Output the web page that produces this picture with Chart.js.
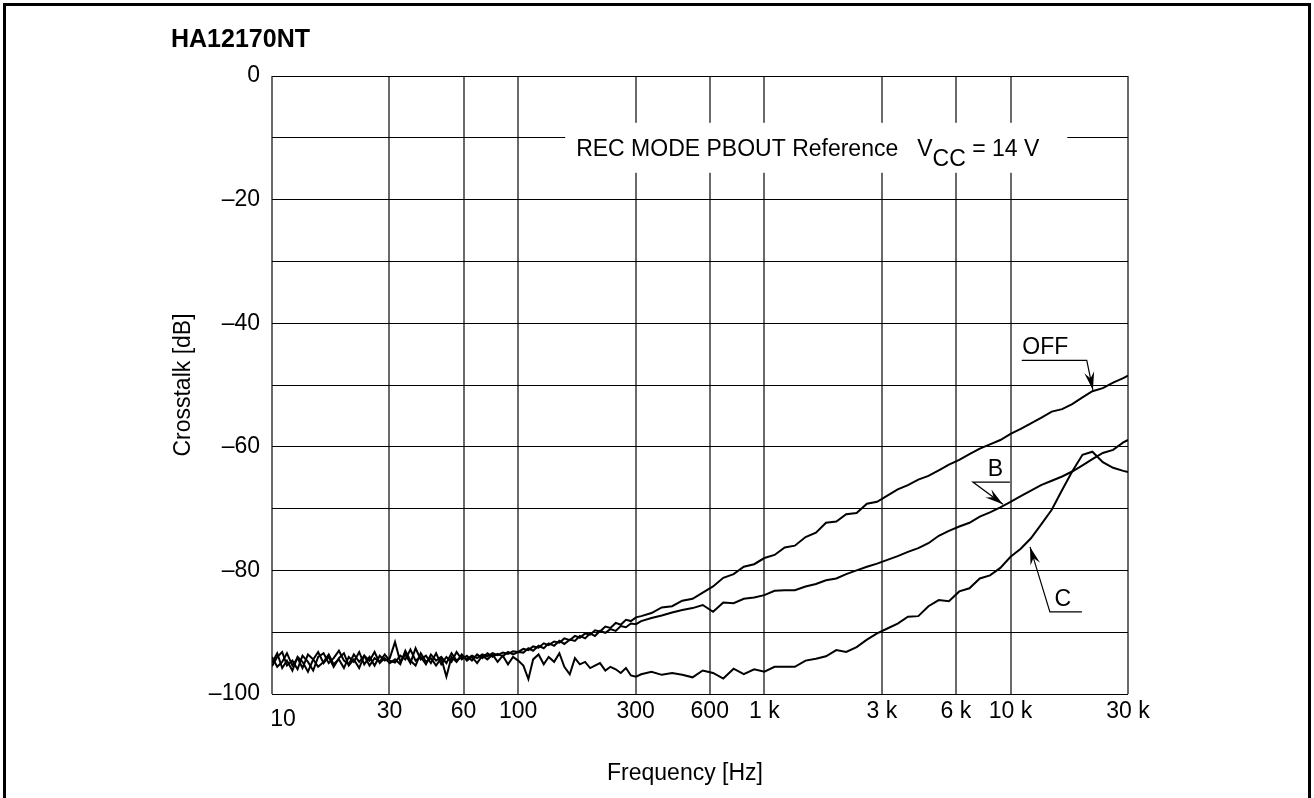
<!DOCTYPE html>
<html>
<head>
<meta charset="utf-8">
<script src="https://cdn.jsdelivr.net/npm/chart.js@4.4.1/dist/chart.umd.min.js"></script>
<style>
  html, body { margin: 0; padding: 0; background: #fff; overflow: hidden; }
</style>
</head>
<body>
<canvas id="myChart" width="1314" height="798"></canvas>
<script>
// frequency points [Hz], shared by all three curves
const freqs = [
  10, 10.5, 11, 11.5, 12.1, 12.7, 13.3, 14.0, 14.7, 15.4, 16.2, 17.0,
  17.8, 18.7, 19.6, 20.5, 21.5, 22.6, 23.7, 24.9, 26.1, 27.4, 28.7, 30.1,
  31.6, 33.2, 34.8, 36.5, 38.3, 40.2, 42.2, 44.2, 46.4, 48.7, 51.1, 53.6,
  56.2, 59.0, 61.9, 64.9, 68.1, 71.5, 75, 78.7, 82.5, 86.6, 90.9, 95.3,
  100, 105, 110, 115, 121, 127, 133, 140, 147, 154, 162, 170,
  178, 187, 196, 205, 215, 226, 237, 249, 261, 274, 287, 301,
  316, 348, 383, 422, 464, 511, 562, 619, 681, 750, 825, 909,
  1000, 1100, 1210, 1330, 1470, 1620, 1780, 1960, 2150, 2370, 2610, 2870,
  3160, 3480, 3830, 4220, 4640, 5110, 5620, 6190, 6810, 7500, 8250, 9090,
  10000, 11000, 12100, 13300, 14700, 16200, 17800, 19600, 21500, 23700, 26100, 28700, 30000
];

// crosstalk [dB]
const offDb = [
  -95.5, -94.0, -93.2, -95.4, -94.6, -96.0, -93.8, -94.8, -96.2, -94.0, -93.4, -95.0,
  -94.2, -93.0, -94.6, -95.2, -93.6, -94.8, -93.8, -95.4, -94.2, -94.8, -93.6, -94.6,
  -94.9, -93.8, -94.4, -92.8, -94.6, -94.0, -95.2, -93.6, -94.6, -94.0, -95.0, -93.4,
  -94.6, -94.0, -94.3, -93.8, -94.2, -93.6, -93.9, -93.4, -93.7, -93.3, -93.5, -93.1,
  -93.2, -92.7, -92.9, -92.3, -92.5, -91.8, -92.1, -91.5, -91.7, -91.0, -91.3, -90.6,
  -90.9, -90.2, -90.4, -89.7, -89.9, -89.1, -89.3, -88.5, -88.8, -88.0, -88.2, -87.6,
  -87.4, -86.9, -86.0, -85.8, -84.9, -84.6, -83.6, -82.6, -81.2, -80.6, -79.4, -79.0,
  -78.0, -77.5, -76.3, -76.0, -74.6, -73.9, -72.3, -72.1, -70.9, -70.7, -69.2, -68.9,
  -67.9, -66.9, -66.2, -65.3, -64.7, -63.8, -62.9, -62.1, -61.2, -60.3, -59.6, -58.9,
  -57.9, -57.1, -56.2, -55.3, -54.3, -53.9, -53.1, -52.0, -51.0, -50.5, -49.6, -48.9, -48.5
];

const bDb = [
  -94.0, -95.6, -94.8, -93.4, -95.4, -94.2, -95.8, -93.6, -94.4, -95.6, -94.8, -93.6,
  -95.2, -94.4, -95.8, -94.0, -94.8, -93.2, -95.2, -94.0, -95.4, -93.8, -94.6, -94.2,
  -91.6, -94.8, -93.6, -95.0, -92.6, -94.4, -93.8, -95.0, -93.4, -95.2, -94.0, -94.8,
  -93.2, -94.4, -93.8, -94.6, -93.6, -94.2, -93.4, -94.0, -93.5, -93.9, -93.2, -93.6,
  -93.2, -93.3, -92.6, -93.0, -92.2, -92.6, -91.8, -92.2, -91.4, -91.9, -91.2, -91.4,
  -90.6, -91.0, -90.2, -90.6, -89.8, -90.1, -89.5, -89.8, -89.0, -89.2, -88.6, -88.7,
  -88.2, -87.7, -87.3, -86.8, -86.4, -86.1, -85.6, -86.7, -85.2, -85.3, -84.6, -84.4,
  -84.0, -83.3, -83.2, -83.2, -82.6, -82.2, -81.6, -81.3, -80.6, -80.0, -79.4, -78.9,
  -78.3, -77.7, -77.0, -76.4, -75.6, -74.4, -73.6, -72.9, -72.3, -71.3, -70.6, -69.8,
  -68.9, -68.0, -67.1, -66.2, -65.5, -64.8, -64.0, -63.0, -62.0, -61.0, -60.5, -59.3, -58.9
];

const cDb = [
  -95.0, -93.4, -95.8, -94.6, -96.2, -94.0, -94.8, -96.4, -94.4, -93.2, -95.0, -94.0,
  -95.6, -94.2, -93.4, -95.4, -94.4, -95.8, -93.8, -94.6, -93.2, -95.0, -94.2, -95.0,
  -94.4, -95.2, -93.0, -94.6, -95.4, -93.4, -94.8, -94.2, -95.4, -94.2, -97.2, -94.0,
  -94.8, -93.6, -94.6, -94.0, -95.0, -93.8, -94.4, -93.6, -94.8, -93.8, -95.2, -94.0,
  -94.6, -95.4, -97.6, -94.4, -93.6, -95.2, -94.0, -94.8, -93.4, -95.6, -96.8, -94.2,
  -95.2, -94.8, -95.8, -95.4, -95.0, -96.2, -95.6, -96.0, -96.6, -95.8, -97.0, -97.2,
  -96.8, -96.4, -96.9, -96.6, -96.9, -97.3, -96.2, -96.6, -97.5, -95.9, -96.8, -96.0,
  -96.4, -95.6, -95.6, -95.6, -94.6, -94.3, -93.9, -92.9, -93.2, -92.4, -91.2, -90.2,
  -89.4, -88.6, -87.5, -87.4, -85.8, -84.8, -85.0, -83.4, -82.9, -81.3, -80.8, -79.6,
  -77.8, -76.5, -74.8, -72.6, -70.2, -67.0, -64.0, -61.3, -60.8, -62.5, -63.4, -63.9, -64.1
];

const xTickValues = [10, 30, 60, 100, 300, 600, 1000, 3000, 6000, 10000, 30000];
const xTickLabels = ["10", "30", "60", "100", "300", "600", "1 k", "3 k", "6 k", "10 k", "30 k"];
const yLabelValues = [0, -20, -40, -60, -80, -100];
const yTickLabels = ["0", "\u201320", "\u201340", "\u201360", "\u201380", "\u2013100"];

// curve labels: arrow tip and elbow in data units
const curveLabels = [
  { text: "OFF", tip: [21600, -50.8], elbow: [20400, -46.0], tail: -65, dx: -9 },
  { text: "B", tip: [9310, -69.3], elbow: [7030, -65.7], tail: 37, dx: 4 },
  { text: "C", tip: [12000, -76.2], elbow: [14450, -86.7], tail: 32, dx: -3 }
];

const FONT = "'Liberation Sans', Arial, sans-serif";
const FS = 23;

function toPoints(values) {
  return freqs.map((f, i) => ({ x: f, y: values[i] }));
}

function arrowHead(ctx, fx, fy, tx, ty) {
  const a = Math.atan2(ty - fy, tx - fx);
  const len = 18, half = 5;
  const c = Math.cos(a), s = Math.sin(a);
  ctx.beginPath();
  ctx.moveTo(tx, ty);
  ctx.lineTo(tx - len * c + half * s, ty - len * s - half * c);
  ctx.lineTo(tx - len * 0.65 * c, ty - len * 0.65 * s);
  ctx.lineTo(tx - len * c - half * s, ty - len * s + half * c);
  ctx.closePath();
  ctx.fill();
}

const decorations = {
  id: "decorations",
  beforeDraw(chart) {
    const ctx = chart.ctx;
    ctx.save();
    ctx.fillStyle = "#fff";
    ctx.fillRect(0, 0, chart.width, chart.height);
    ctx.strokeStyle = "#000";
    ctx.lineWidth = 3;
    ctx.beginPath();
    ctx.moveTo(4.5, chart.height + 5);
    ctx.lineTo(4.5, 4.5);
    ctx.lineTo(1309.5, 4.5);
    ctx.lineTo(1309.5, chart.height + 5);
    ctx.stroke();
    ctx.restore();
  },
  afterDraw(chart) {
    const ctx = chart.ctx;
    const x = chart.scales.x, y = chart.scales.y;
    const area = chart.chartArea;
    ctx.save();
    ctx.fillStyle = "#000";
    ctx.strokeStyle = "#000";

    // heading
    ctx.font = `bold 25px ${FONT}`;
    ctx.textAlign = "left";
    ctx.textBaseline = "alphabetic";
    ctx.fillText("HA12170NT", 171, 47);

    // axis titles
    ctx.font = `${FS}px ${FONT}`;
    ctx.textAlign = "center";
    ctx.textBaseline = "middle";
    ctx.fillText("Frequency [Hz]", 685, 774);
    ctx.save();
    ctx.translate(184, (area.top + area.bottom) / 2);
    ctx.rotate(-Math.PI / 2);
    ctx.fillText("Crosstalk [dB]", 0, 0);
    ctx.restore();

    // first x label sits a little off
    ctx.textBaseline = "top";
    ctx.fillText(xTickLabels[0], x.getPixelForValue(xTickValues[0]) + 11, area.bottom + 14);

    // condition note on the -10 dB line
    const nx = x.getPixelForValue(172), ny = y.getPixelForValue(-10);
    const p1 = "REC MODE PBOUT Reference";
    const w1 = ctx.measureText(p1).width;
    const vx = nx + w1 + 19;
    const wV = ctx.measureText("V").width;
    const wCC = ctx.measureText("CC").width;
    const p3 = " = 14 V";
    const w3 = ctx.measureText(p3).width;
    const endX = vx + wV + wCC + w3;
    ctx.fillStyle = "#fff";
    ctx.fillRect(nx - 11, ny - 15, endX - nx + 39, 50);
    ctx.fillStyle = "#000";
    ctx.textAlign = "left";
    ctx.textBaseline = "alphabetic";
    const base = ny + 18;
    ctx.fillText(p1, nx, base);
    ctx.fillText("V", vx, base);
    ctx.fillText("CC", vx + wV, base + 10);
    ctx.fillText(p3, vx + wV + wCC, base);

    // curve labels with leaders
    ctx.lineWidth = 1.2;
    curveLabels.forEach(l => {
      const tx = x.getPixelForValue(l.tip[0]), ty = y.getPixelForValue(l.tip[1]);
      const ex = x.getPixelForValue(l.elbow[0]), ey = y.getPixelForValue(l.elbow[1]);
      const ux = ex + l.tail;
      ctx.beginPath();
      ctx.moveTo(ux, ey);
      ctx.lineTo(ex, ey);
      ctx.lineTo(tx, ty);
      ctx.stroke();
      arrowHead(ctx, ex, ey, tx, ty);
      ctx.textAlign = "center";
      ctx.fillText(l.text, (ex + ux) / 2 + l.dx, ey - 6);
    });
    ctx.restore();
  }
};

const ctx = document.getElementById("myChart").getContext("2d");
const myChart = new Chart(ctx, {
  type: "line",
  data: {
    datasets: [
      { label: "OFF", data: toPoints(offDb) },
      { label: "B", data: toPoints(bDb) },
      { label: "C", data: toPoints(cDb) }
    ]
  },
  options: {
    responsive: false,
    animation: false,
    layout: { padding: { top: 76, right: 186, left: 0, bottom: 0 } },
    elements: {
      point: { radius: 0 },
      line: { borderWidth: 2, borderColor: "#000", tension: 0, fill: false }
    },
    plugins: {
      legend: { display: false },
      tooltip: { enabled: false }
    },
    scales: {
      x: {
        type: "logarithmic",
        min: 10,
        max: 30000,
        afterBuildTicks: s => { s.ticks = xTickValues.map(v => ({ value: v })); },
        afterFit: s => { s.height = 104; },
        ticks: {
          autoSkip: false,
          maxRotation: 0,
          padding: 4,
          color: "#000",
          font: { family: FONT, size: FS },
          callback: (v, i) => (i === 0 ? "" : xTickLabels[i])
        },
        grid: { color: "#6a6a6a", lineWidth: 2, drawTicks: false },
        border: { display: false }
      },
      y: {
        min: -100,
        max: 0,
        afterFit: s => { s.width = 272; },
        ticks: {
          stepSize: 10,
          padding: 12,
          color: "#000",
          font: { family: FONT, size: FS },
          callback: v => {
            const i = yLabelValues.indexOf(v);
            return i < 0 ? "" : yTickLabels[i];
          }
        },
        grid: { color: "#000", lineWidth: 1, drawTicks: false },
        border: { display: false }
      }
    }
  },
  plugins: [decorations]
});
</script>
</body>
</html>
